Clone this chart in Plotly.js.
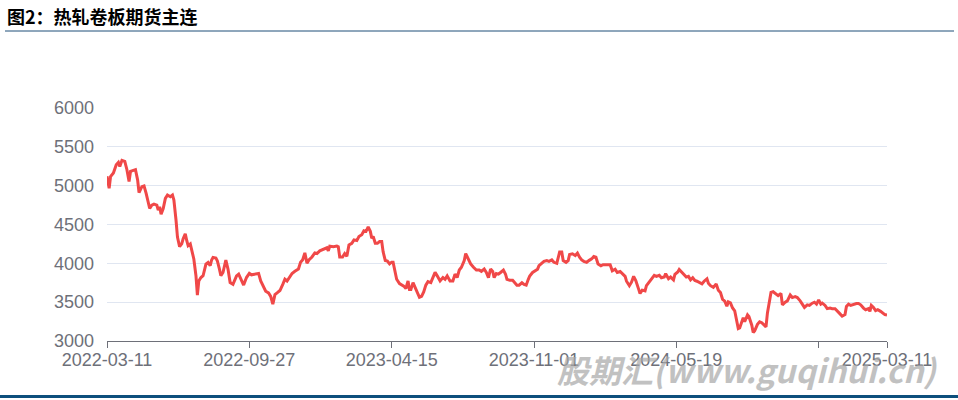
<!DOCTYPE html>
<html>
<head>
<meta charset="utf-8">
<script src="https://cdn.plot.ly/plotly-3.0.1.min.js"></script>
<style>
html,body{margin:0;padding:0;background:#fff;}
#chart{width:958px;height:400px;}
</style>
</head>
<body>
<div id="chart"></div>
<script>
// Series: day offsets from the start date, and closing prices
const startDate = "2022-03-11";
const dayOffsets = [
0,3,5,9,13,16,18,21,25,28,31,33,37,40,43,45,49,52,55,58,60,63,66,70,72,74,76,79,82,85,89,92,94,97,99,102,105,107,110,112,114,117,119,122,125,127,129,132,135,139,142,145,147,149,153,155,158,160,163,167,170,173,177,180,
182,185,189,192,196,200,203,208,213,216,220,223,227,230,233,236,239,243,247,250,253,256,260,264,269,272,275,278,281,284,288,292,295,299,304,309,311,313,318,323,325,327,331,334,337,340,344,347,351,354,358,
361,364,367,370,372,374,377,380,383,386,388,391,394,397,400,402,405,407,411,414,417,420,423,425,427,430,433,436,439,442,445,448,451,455,458,461,464,468,472,475,478,482,486,489,492,495,498,502,504,508,511,515,519,523,526,530,533,536,539,
542,544,547,550,553,557,560,562,566,570,573,576,579,583,586,589,592,594,598,601,605,607,611,614,618,621,625,628,632,634,636,639,641,645,648,650,654,658,661,664,667,670,674,677,681,684,687,690,694,697,701,704,707,710,714,717,721,
728,730,734,737,740,743,747,749,752,756,758,762,765,769,772,776,779,783,785,789,792,796,798,802,804,808,811,814,817,820,823,826,829,832,836,839,843,845,848,852,856,859,862,865,868,871,873,876,879,882,885,887,889,892,894,896,900,902,906,
908,910,914,917,920,923,926,928,931,933,936,940,943,947,949,953,956,960,963,967,970,974,977,980,984,987,991,994,997,1000,1003,1005,1009,1012,1016,1019,1023,1026,1030,1033,1037,1039,1042,1045,1049,1053,1056,1059,1063,1066,1070,1072,1074,1077,1080,1083,1087,1091,1093,1096
];
const prices = [
5120,4967,5118,5162,5270,5300,5248,5326,5313,5205,5053,5183,5196,5205,5075,4910,4988,4997,4900,4780,4706,4750,4763,4750,4685,4728,4633,4706,4836,4880,4858,4880,4815,4555,4338,4216,4251,4316,4381,4294,4229,4251,4164,4056,3840,3592,3774,3817,3840,3991,4012,3969,4043,4077,4069,4034,3926,3840,3882,4043,3926,3752,3730,3783,
3839,3861,3773,3720,3817,3870,3852,3861,3870,3773,3694,3641,3619,3575,3474,3597,3619,3650,3729,3795,3773,3817,3870,3897,3927,4015,4046,4134,4002,4046,4082,4134,4126,4161,4178,4200,4161,4222,4214,4222,4214,4082,4082,4126,4090,4236,4258,4302,4293,4346,4368,
4420,4412,4469,4412,4324,4346,4258,4258,4280,4280,4148,4037,4029,3993,4015,4015,3905,3795,3738,3720,3707,3676,3773,3663,3663,3751,3694,3619,3562,3575,3632,3720,3764,3751,3817,3883,3839,3773,3817,3795,3839,3773,3773,3861,3817,3914,3949,4037,4126,4046,3993,3949,3914,3914,3897,3927,3883,3817,3927,
3895,3816,3868,3860,3882,3912,3860,3794,3781,3781,3750,3719,3719,3750,3728,3719,3794,3838,3882,3904,3925,3969,4000,4026,4035,4026,4044,4013,4000,4088,4145,4145,4035,4013,4035,4114,4123,4101,4132,4079,4044,4026,4013,4035,4057,4088,4079,3991,3969,3982,3982,3991,3982,3904,3925,3882,3895,
3832,3770,3712,3757,3832,3779,3668,3611,3655,3646,3712,3757,3801,3845,3832,3845,3814,3823,3867,3801,3823,3788,3858,3889,3920,3876,3858,3823,3832,3788,3814,3779,3770,3757,3735,3770,3801,3743,3712,3690,3735,3655,3624,3535,3513,3447,3504,3491,3425,3389,3270,3159,3168,3248,3301,3248,3336,3314,3204,
3109,3130,3214,3248,3235,3206,3181,3361,3508,3626,3634,3601,3584,3613,3466,3500,3517,3592,3559,3571,3559,3517,3466,3433,3466,3458,3487,3500,3475,3529,3475,3487,3458,3416,3424,3416,3416,3391,3349,3319,3340,3445,3475,3458,3475,3483,3483,3466,3424,3403,3416,3382,3458,3433,3391,3403,3382,3349,3340,3335
];
const tickDates = ["2022-03-11","2022-09-27","2023-04-15","2023-11-01","2024-05-19","2024-12-05","2025-03-11"];
const tickLabels = ["2022-03-11","2022-09-27","2023-04-15","2023-11-01","2024-05-19","","2025-03-11"];
const yTicks = [3000,3500,4000,4500,5000,5500,6000];
const chartTitle = "图2：热轧卷板期货主连";
const watermark = "股期汇(www.guqihui.cn)";

const base = Date.UTC(2022, 2, 11);
const dates = dayOffsets.map(d => {
  const t = new Date(base + d * 86400000);
  return t.toISOString().slice(0, 10);
});

const trace = {
  x: dates, y: prices, type: "scatter", mode: "lines",
  line: {color: "#f04848", width: 3},
  hoverinfo: "skip"
};

const layout = {
  width: 958, height: 400,
  margin: {l: 107, r: 71, t: 108, b: 59, pad: 0},
  paper_bgcolor: "#ffffff", plot_bgcolor: "#ffffff",
  showlegend: false,
  font: {family: "Liberation Sans, Arial, sans-serif", color: "#6e7079", size: 18},
  xaxis: {
    type: "date",
    range: ["2022-03-11", "2025-03-11"],
    tickmode: "array", tickvals: tickDates, ticktext: tickLabels,
    showgrid: false, zeroline: false,
    showline: true, linecolor: "#6e7079", linewidth: 1,
    ticks: "outside", ticklen: 6, tickcolor: "#6e7079", tickwidth: 1,
    tickfont: {size: 18, color: "#6e7079"},
    ticklabelstandoff: -4
  },
  yaxis: {
    range: [3000, 6000],
    tickmode: "array", tickvals: yTicks,
    showgrid: true, gridcolor: "#e0e6f1", gridwidth: 1,
    zeroline: false, showline: false, ticks: "",
    tickfont: {size: 18, color: "#6e7079"},
    ticklabelstandoff: 12
  },
  shapes: [
    {type: "line", xref: "paper", yref: "paper",
     x0: (5 - 107) / 780, x1: (954 - 107) / 780,
     y0: (341 - 31) / 233, y1: (341 - 31) / 233,
     line: {color: "#1f4e79", width: 1}},
    {type: "line", xref: "paper", yref: "paper",
     x0: (0 - 107) / 780, x1: (958 - 107) / 780,
     y0: (341 - 396.5) / 233, y1: (341 - 396.5) / 233,
     line: {color: "#0d4f7c", width: 3}}
  ],
  annotations: [
    {text: "<b>" + chartTitle + "</b>", xref: "paper", yref: "paper",
     x: (5 - 107) / 780, y: (341 - 16) / 233, xanchor: "left", yanchor: "middle",
     showarrow: false, font: {family: "Noto Sans CJK SC, sans-serif", size: 18, color: "#000000"}},
    {text: "<b><i>" + watermark + "</i></b>", xref: "paper", yref: "paper",
     x: (747 - 107) / 780, y: (341 - 369) / 233, xanchor: "center", yanchor: "middle",
     showarrow: false, opacity: 0.7,
     font: {family: "Noto Sans CJK SC, sans-serif", size: 32, color: "#a8a8a8"}}
  ]
};

Plotly.newPlot("chart", [trace], layout, {staticPlot: true, displayModeBar: false});
</script>
</body>
</html>
